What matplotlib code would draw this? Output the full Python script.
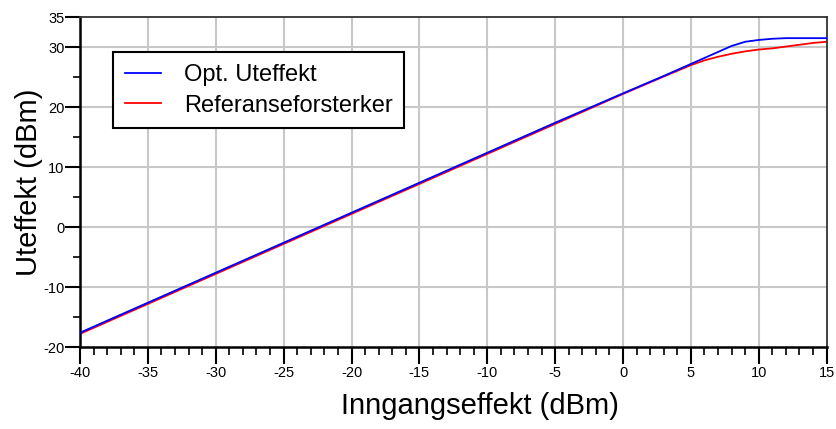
import matplotlib
matplotlib.use("Agg")
import matplotlib.pyplot as plt
from matplotlib.ticker import MultipleLocator, FixedLocator

plt.rcParams['font.family'] = ['Liberation Sans', 'DejaVu Sans']
plt.rcParams['axes.unicode_minus'] = False

x_opt = [-40, -35, -30, -25, -20, -15, -10, -5, 0, 3, 5, 6, 7, 8, 9, 10, 11, 12, 13, 14, 15]
y_opt = [-17.6, -12.6, -7.6, -2.6, 2.4, 7.4, 12.4, 17.4, 22.3, 25.2, 27.2, 28.2, 29.2, 30.2, 30.9, 31.2, 31.4, 31.5, 31.5, 31.5, 31.5]

x_ref = [-40, -35, -30, -25, -20, -15, -10, -5, 0, 3, 5, 6, 7, 8, 9, 10, 11, 12, 13, 14, 15]
y_ref = [-17.8, -12.8, -7.8, -2.8, 2.2, 7.2, 12.2, 17.2, 22.2, 25.1, 27.0, 27.8, 28.4, 28.9, 29.3, 29.6, 29.8, 30.1, 30.4, 30.7, 30.9]

labels = ["Opt. Uteffekt", "Referanseforsterker"]
x_ticks = [-40, -35, -30, -25, -20, -15, -10, -5, 0, 5, 10, 15]
y_ticks = [-20, -10, 0, 10, 20, 30, 35]
y_minor = [-15, -5, 5, 15, 25]

fig = plt.figure(figsize=(8.37, 4.29), dpi=100)
ax = fig.add_axes([0.0956, 0.191, 0.892, 0.769])

ax.plot(x_opt, y_opt, color='#0000ff', lw=1.3, label=labels[0], zorder=3)
ax.plot(x_ref, y_ref, color='#ff0000', lw=1.3, label=labels[1], zorder=2)

ax.set_xlim(-40, 15)
ax.set_ylim(-20, 35)
ax.xaxis.set_major_locator(FixedLocator(x_ticks))
ax.xaxis.set_minor_locator(MultipleLocator(1))
ax.yaxis.set_major_locator(FixedLocator(y_ticks))
ax.yaxis.set_minor_locator(FixedLocator(y_minor))

for xv in x_ticks[1:-1]:
    ax.axvline(xv, color='#c8c8c8', lw=1.5, zorder=0)
for yv in [-10, 0, 10, 20, 30]:
    ax.axhline(yv, color='#c8c8c8', lw=1.5, zorder=0)

ax.tick_params(axis='x', which='major', direction='out', length=12, width=1.5, labelsize=10.5, pad=1.5)
ax.tick_params(axis='x', which='minor', direction='out', length=6, width=1.2)
ax.tick_params(axis='y', which='major', direction='out', length=11, width=1.5, labelsize=10.5, pad=0)
ax.tick_params(axis='y', which='minor', direction='out', length=5, width=1.2)

for s in ['left', 'bottom']:
    ax.spines[s].set_linewidth(1.8)
for s in ['top', 'right']:
    ax.spines[s].set_linewidth(1.3)
    ax.spines[s].set_color('#333333')

ax.set_xlabel("Inngangseffekt (dBm)", fontsize=21, labelpad=9)
ax.xaxis.set_label_coords(0.536, -0.135)
ax.set_ylabel("Uteffekt (dBm)", fontsize=21, labelpad=0.5)

leg = ax.legend(loc='upper left', bbox_to_anchor=(0.044, 0.893), fontsize=17,
                frameon=True, fancybox=False, borderpad=0.5, handlelength=1.55,
                handletextpad=0.95, labelspacing=0.35, borderaxespad=0)
leg.get_frame().set_edgecolor('black')
leg.get_frame().set_linewidth(1.5)
leg.get_frame().set_alpha(1)

fig.savefig("out.png", dpi=100)
